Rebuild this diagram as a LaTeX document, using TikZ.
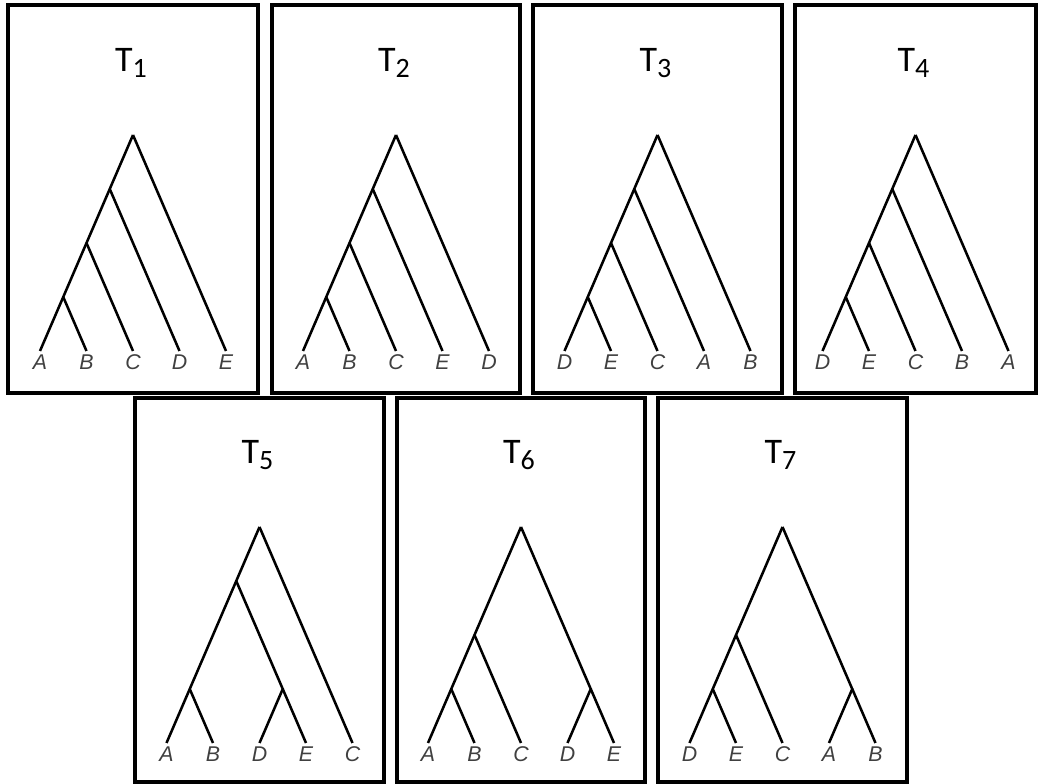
\documentclass[tikz,border=0pt]{standalone}
\usepackage{fontspec}
\setmainfont{Liberation Sans}
\newfontfamily\titlefont{Carlito}
\usepackage{tikz}
\tikzset{every picture/.style={line width=0.75pt}}
\usetikzlibrary{calc}

% lowered index of a tree name
\newcommand{\tsub}[1]{\raisebox{-4.5pt}{\fontsize{21}{21}\selectfont #1}}

\begin{document}
\begin{tikzpicture}[
		x=0.75pt, y=0.75pt,
		% Frame round each tree
		panel/.style={
			draw=black,
			line width=2.3pt
		},
		% Tree branches
		branch/.style={
			line width=1.9pt
		},
		% Taxon labels under the tips
		taxon/.style={
			anchor=north,
			inner sep=2.5pt,
			text=black!75,
			font=\fontsize{16}{16}\selectfont\itshape
		},
		% Tree names
		treename/.style={
			anchor=base,
			inner sep=0pt,
			font=\titlefont\fontsize{27}{27}\selectfont
		}
		]
		
		\useasboundingbox (0,0) rectangle (1039,784);
		
		% --- Top row: caterpillar trees T1 to T4 ---
		\foreach \t/\xl/\xr/\la/\lb/\lc/\ld/\le in {
			1/8/258/A/B/C/D/E,
			2/272/520/A/B/C/E/D,
			3/533/782/D/E/C/A/B,
			4/795/1036/D/E/C/B/A}{
			\pgfmathsetmacro{\cx}{(\xl+\xr)/2}
			\draw[panel] (\xl,391) rectangle (\xr,779);
			\node[treename] (T\t-name) at ({\cx-2},712) {T\tsub{\t}};
			
			% Leaves
			\node[taxon] (T\t-1) at ({\cx-93},433) {\la};
			\node[taxon] (T\t-2) at ({\cx-46.5},433) {\lb};
			\node[taxon] (T\t-3) at (\cx,433) {\lc};
			\node[taxon] (T\t-4) at ({\cx+46.5},433) {\ld};
			\node[taxon] (T\t-5) at ({\cx+93},433) {\le};
			
			% Inner nodes
			\coordinate (T\t-ab) at ($(T\t-1.north)!0.5!(T\t-2.north)+(0,54)$);
			\coordinate (T\t-abc) at ($(T\t-1.north)!0.5!(T\t-3.north)+(0,108)$);
			\coordinate (T\t-abcd) at ($(T\t-1.north)!0.5!(T\t-4.north)+(0,162)$);
			\coordinate (T\t-root) at ($(T\t-1.north)!0.5!(T\t-5.north)+(0,216)$);
			
			% Branches
			\draw[branch] (T\t-root) -- (T\t-abcd) -- (T\t-abc) -- (T\t-ab) -- (T\t-1.north);
			\draw[branch] (T\t-ab) -- (T\t-2.north);
			\draw[branch] (T\t-abc) -- (T\t-3.north);
			\draw[branch] (T\t-abcd) -- (T\t-4.north);
			\draw[branch] (T\t-root) -- (T\t-5.north);
		}
		
		% --- Bottom row: T5 ---
		\draw[panel] (135,2) rectangle (384,386);
		\node[treename] (T5-name) at (257.5,320) {T\tsub{5}};
		\node[taxon] (T5-1) at (166.5,41) {A};
		\node[taxon] (T5-2) at (213,41) {B};
		\node[taxon] (T5-3) at (259.5,41) {D};
		\node[taxon] (T5-4) at (306,41) {E};
		\node[taxon] (T5-5) at (352.5,41) {C};
		
		\coordinate (T5-ab) at ($(T5-1.north)!0.5!(T5-2.north)+(0,54)$);
		\coordinate (T5-de) at ($(T5-3.north)!0.5!(T5-4.north)+(0,54)$);
		\coordinate (T5-abde) at ($(T5-1.north)!0.5!(T5-4.north)+(0,162)$);
		\coordinate (T5-root) at ($(T5-1.north)!0.5!(T5-5.north)+(0,216)$);
		
		\draw[branch] (T5-root) -- (T5-abde) -- (T5-ab) -- (T5-1.north);
		\draw[branch] (T5-ab) -- (T5-2.north);
		\draw[branch] (T5-abde) -- (T5-de) -- (T5-3.north);
		\draw[branch] (T5-de) -- (T5-4.north);
		\draw[branch] (T5-root) -- (T5-5.north);
		
		% --- Bottom row: T6 and T7 ---
		\foreach \t/\xl/\xr/\la/\lb/\lc/\ld/\le in {
			6/397/645/A/B/C/D/E,
			7/658/907/D/E/C/A/B}{
			\pgfmathsetmacro{\cx}{(\xl+\xr)/2}
			\draw[panel] (\xl,2) rectangle (\xr,386);
			\node[treename] (T\t-name) at ({\cx-2},320) {T\tsub{\t}};
			
			\node[taxon] (T\t-1) at ({\cx-93},41) {\la};
			\node[taxon] (T\t-2) at ({\cx-46.5},41) {\lb};
			\node[taxon] (T\t-3) at (\cx,41) {\lc};
			\node[taxon] (T\t-4) at ({\cx+46.5},41) {\ld};
			\node[taxon] (T\t-5) at ({\cx+93},41) {\le};
			
			\coordinate (T\t-ab) at ($(T\t-1.north)!0.5!(T\t-2.north)+(0,54)$);
			\coordinate (T\t-abc) at ($(T\t-1.north)!0.5!(T\t-3.north)+(0,108)$);
			\coordinate (T\t-de) at ($(T\t-4.north)!0.5!(T\t-5.north)+(0,54)$);
			\coordinate (T\t-root) at ($(T\t-1.north)!0.5!(T\t-5.north)+(0,216)$);
			
			\draw[branch] (T\t-root) -- (T\t-abc) -- (T\t-ab) -- (T\t-1.north);
			\draw[branch] (T\t-ab) -- (T\t-2.north);
			\draw[branch] (T\t-abc) -- (T\t-3.north);
			\draw[branch] (T\t-root) -- (T\t-de) -- (T\t-4.north);
			\draw[branch] (T\t-de) -- (T\t-5.north);
		}
		
	\end{tikzpicture}
\end{document}
